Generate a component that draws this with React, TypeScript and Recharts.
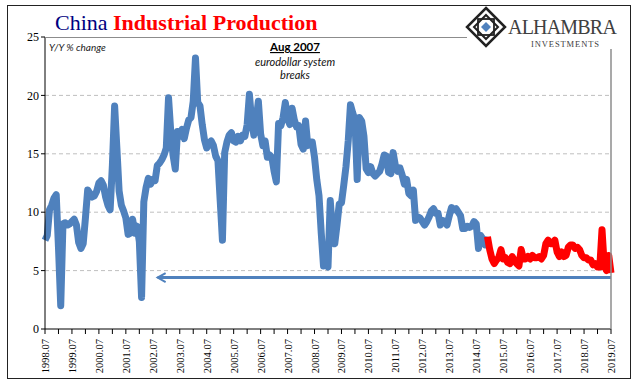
import { CartesianGrid, Line, LineChart, ReferenceLine, XAxis, YAxis } from "recharts"

// one label per July, 1998.07 .. 2019.07
const yearLabels = [
  "1998.07", "1999.07", "2000.07", "2001.07", "2002.07", "2003.07", "2004.07", "2005.07",
  "2006.07", "2007.07", "2008.07", "2009.07", "2010.07", "2011.07", "2012.07", "2013.07",
  "2014.07", "2015.07", "2016.07", "2017.07", "2018.07", "2019.07",
]

// monthly Y/Y %, Jul 1998 .. Dec 2014 (blue)
const blueValues = [
  7.6, 8.0, 10.2, 10.6, 11.2, 11.5, 7.0, 2.0, 9.0, 9.1, 8.9, 9.0,
  9.2, 9.4, 8.9, 7.4, 6.9, 7.3, 9.5, 11.9, 11.6, 11.3, 11.4, 11.8,
  12.5, 12.7, 12.3, 11.3, 10.6, 10.2, 14.0, 19.1, 15.5, 11.8, 10.6, 10.1,
  9.5, 8.1, 8.2, 9.4, 8.2, 8.8, 7.5, 2.7, 10.9, 12.1, 12.9, 12.4,
  12.8, 12.7, 14.0, 14.2, 14.5, 14.9, 15.5, 19.8, 16.9, 14.9, 13.7, 16.9,
  16.5, 17.1, 16.3, 17.2, 17.9, 18.1, 19.5, 23.2, 19.4, 19.1, 17.5, 16.2,
  15.5, 15.9, 16.1, 15.7, 14.8, 14.4, 11.0, 7.6, 15.1, 16.0, 16.6, 16.8,
  16.1, 16.0, 16.5, 16.1, 16.6, 16.5, 17.5, 20.1, 17.8, 16.6, 17.9, 19.5,
  16.7, 15.7, 16.1, 14.7, 14.9, 14.7, 13.5, 12.6, 17.6, 17.4, 18.1, 19.4,
  18.0, 17.5, 18.9, 17.9, 17.3, 17.4, 15.8, 15.4, 17.8, 15.7, 16.0, 16.0,
  14.7, 12.8, 11.4, 8.2, 5.4, 5.7, 5.3, 11.0, 8.3, 7.3, 8.9, 10.7,
  10.8, 12.3, 13.9, 16.1, 19.2, 18.5, 17.9, 12.8, 18.1, 17.8, 16.5, 13.7,
  13.4, 13.9, 13.3, 13.1, 13.3, 13.5, 14.1, 14.9, 14.8, 13.4, 13.3, 15.1,
  14.0, 13.5, 13.8, 13.2, 12.4, 12.8, 11.6, 11.4, 11.9, 9.3, 9.6, 9.5,
  9.2, 8.9, 9.2, 9.6, 10.1, 10.3, 9.9, 9.9, 8.9, 9.3, 9.2, 8.9,
  9.7, 10.4, 10.2, 10.3, 10.0, 9.7, 8.6, 8.6, 8.8, 8.7, 8.8, 9.2,
  9.0, 6.9, 8.0, 7.7, 7.2, 7.9,
]

// monthly Y/Y %, Dec 2014 .. Jul 2019 (red)
const redValues = [
  7.9, 6.8, 6.0, 5.6, 5.9, 6.1, 6.8, 6.0, 6.1, 5.7,
  5.6, 6.2, 5.9, 5.6, 5.4, 6.8, 6.0, 6.0, 6.2, 6.0,
  6.3, 6.1, 6.1, 6.2, 6.0, 6.3, 7.3, 7.6, 7.3, 7.3,
  7.6, 6.6, 6.2, 6.6, 6.2, 6.3, 7.0, 7.2, 7.2, 6.9,
  7.0, 6.8, 6.3, 6.1, 6.1, 5.9, 5.9, 5.5, 5.6, 5.3,
  5.3, 8.5, 5.4, 5.0, 6.3, 4.8,
]

const yTicks = [0, 5, 10, 15, 20, 25]
const gridValues = [5, 10, 15, 20]
const arrowLevel = 4.4
const arrowFrom = 49.7 // months after 1998.07

const redStart = blueValues.length - 1
const total = redStart + redValues.length
const data = Array.from({ length: total }, (_, i) => ({
  i,
  blue: i <= redStart ? blueValues[i] : null,
  red: i >= redStart ? redValues[i - redStart] : null,
}))
const xTicks = Array.from({ length: yearLabels.length * 2 - 1 }, (_, k) => k * 6)

const BLUE = "#4F81BD"
const SERIF = "'Liberation Serif', 'Times New Roman', serif"
const SANS = "Lato, 'Open Sans', sans-serif"

function XTick({ x, y, payload }: any) {
  const v = payload.value
  if (v % 12 !== 0) return null
  const label = yearLabels[v / 12]
  return (
    <text
      x={x + 4}
      y={y + 3}
      transform={`rotate(-90, ${x + 4}, ${y + 3})`}
      textAnchor="end"
      fontFamily={SERIF}
      fontSize={10.5}
      fill="#000"
    >
      {label}
    </text>
  )
}

function Arrow(props: any) {
  const { x1, y1, x2, y2 } = props
  const left = Math.min(x1, x2)
  const right = Math.max(x1, x2)
  const y = (y1 + y2) / 2
  return (
    <g>
      <line x1={left + 1} y1={y} x2={right} y2={y} stroke={BLUE} strokeWidth={3} />
      <path d={`M${left + 9},${y - 4.5} L${left + 1},${y} L${left + 9},${y + 4.5}`} fill="none" stroke={BLUE} strokeWidth={2} />
    </g>
  )
}

export default function App() {
  return (
    <div style={{ position: "absolute", left: 0, top: 0, width: 641, height: 381, background: "#fff" }}>
      <LineChart width={641} height={381} data={data} margin={{ top: 37, right: 30, left: 5, bottom: 7 }}>
        <CartesianGrid vertical={false} horizontalValues={gridValues} stroke="#BFBFBF" strokeDasharray="4 3" />
        <XAxis
          type="number"
          dataKey="i"
          domain={[0, total - 1]}
          ticks={xTicks}
          interval={0}
          height={45}
          tickSize={5}
          stroke="#000"
          tick={<XTick />}
        />
        <YAxis
          domain={[0, 25]}
          ticks={yTicks}
          width={40}
          tickSize={4}
          stroke="#000"
          tick={{ fontFamily: SERIF, fontSize: 12, fill: "#000" }}
        />
        <ReferenceLine
          segment={[{ x: arrowFrom, y: arrowLevel }, { x: total - 1, y: arrowLevel }]}
          shape={<Arrow />}
          ifOverflow="visible"
        />
        <Line
          type="linear"
          dataKey="blue"
          stroke={BLUE}
          strokeWidth={7}
          strokeLinejoin="round"
          dot={false}
          activeDot={false}
          isAnimationActive={false}
        />
        <Line
          type="linear"
          dataKey="red"
          stroke="#FF0000"
          strokeWidth={7}
          strokeLinejoin="round"
          dot={false}
          activeDot={false}
          isAnimationActive={false}
        />
      </LineChart>

      <svg width={641} height={381} style={{ position: "absolute", left: 0, top: 0, pointerEvents: "none" }}>
        <rect x={7.5} y={5.5} width={623} height={373} fill="none" stroke="#222" strokeWidth={1} />
        <line x1={45} y1={37.5} x2={467} y2={37.5} stroke="#8c8c8c" strokeWidth={1.2} />
        <line x1={611} y1={49} x2={611} y2={329} stroke="#8c8c8c" strokeWidth={1.5} />

        <text x={55} y={30} fontFamily={SERIF} fontSize={22}>
          <tspan fill="#000080">China </tspan>
          <tspan fill="#FF0000" fontWeight="bold">Industrial Production</tspan>
        </text>

        <text x={49} y={51} fontFamily={SANS} fontStyle="italic" fontSize={10} fill="#222">
          Y/Y % change
        </text>

        <text x={295} y={51} textAnchor="middle" fontFamily={SANS} fontWeight="bold" fontSize={11.5} fill="#000" style={{ textDecoration: "underline" }}>
          Aug 2007
        </text>
        <text x={295} y={66} textAnchor="middle" fontFamily={SANS} fontStyle="italic" fontSize={11} fill="#111">
          eurodollar system
        </text>
        <text x={295} y={79} textAnchor="middle" fontFamily={SANS} fontStyle="italic" fontSize={11} fill="#111">
          breaks
        </text>

        <g>
          <path d="M486,8 L505,27 L486,46 L467,27 Z" fill="none" stroke="#222" strokeWidth={2.5} />
          <path d="M486,15 L498,27 L486,39 L474,27 Z" fill="none" stroke="#222" strokeWidth={2} />
          <rect x={478} y={19} width={16} height={16} fill="none" stroke="#222" strokeWidth={1.8} />
          <path d="M486,22 L491,27 L486,32 L481,27 Z" fill={BLUE} />
        </g>
        <text x={508} y={34} fontFamily={SERIF} fontSize={20} letterSpacing={-0.8} fill="#404040">
          ALHAMBRA
        </text>
        <text x={531} y={47} fontFamily={SERIF} fontSize={8.5} letterSpacing={0.9} fill="#404040">
          INVESTMENTS
        </text>
      </svg>
    </div>
  )
}
